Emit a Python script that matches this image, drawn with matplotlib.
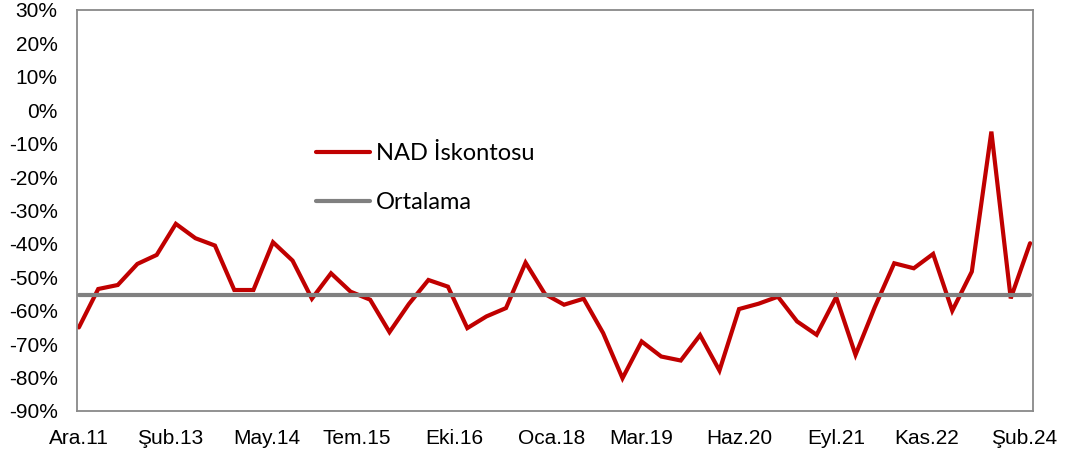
import matplotlib
matplotlib.use("Agg")
import matplotlib.pyplot as plt
import pandas as pd
from matplotlib.ticker import FuncFormatter, MultipleLocator

plt.rcParams["axes.unicode_minus"] = False

# çeyreklik veri: Aralık 2011 - Mart 2024
donemler = pd.date_range("2011-12-01", "2024-03-01", freq="3MS")
nad_iskontosu = [
    -65.0, -53.5, -52.3, -46.0, -43.3, -34.0, -38.3, -40.5, -53.8, -53.8,
    -39.5, -45.0, -56.4, -48.8, -54.3, -56.7, -66.4, -58.0, -50.8, -52.8,
    -65.2, -61.7, -59.2, -45.6, -55.0, -58.2, -56.4, -66.7, -80.2, -69.2,
    -73.7, -74.9, -67.3, -77.9, -59.5, -57.9, -55.8, -63.2, -67.2, -55.9,
    -73.2, -59.0, -45.8, -47.3, -43.0, -60.0, -48.3, -6.4, -56.3, -39.8,
]
ortalama = -55.2

tick_tarihleri = pd.to_datetime([
    "2011-12-01", "2013-02-01", "2014-05-01", "2015-07-01", "2016-10-01",
    "2018-01-01", "2019-03-01", "2020-06-01", "2021-09-01", "2022-11-01",
    "2024-02-01",
])
tick_etiketleri = ["Ara.11", "Şub.13", "May.14", "Tem.15", "Eki.16", "Oca.18",
                   "Mar.19", "Haz.20", "Eyl.21", "Kas.22", "Şub.24"]

fig = plt.figure(figsize=(10.78, 4.57), dpi=100)
ax = fig.add_axes([0.0714, 0.1007, 0.8869, 0.8775])

ax.plot(donemler, nad_iskontosu, color="#C00000", linewidth=3.0,
        solid_capstyle="round", solid_joinstyle="miter", label="NAD İskontosu")
ax.plot(donemler, [ortalama] * len(donemler), color="#808080", linewidth=3.0,
        solid_capstyle="round", label="Ortalama")

ax.set_ylim(-90, 30)
ax.yaxis.set_major_locator(MultipleLocator(10))
ax.yaxis.set_major_formatter(FuncFormatter(lambda v, p: f"{v:.0f}%"))
ax.set_xlim(donemler[0] - pd.Timedelta(days=9), donemler[-1] + pd.Timedelta(days=14))
ax.set_xticks(tick_tarihleri)
ax.set_xticklabels(tick_etiketleri)

for lab in ax.get_xticklabels() + ax.get_yticklabels():
    lab.set_fontfamily("Liberation Sans")
    lab.set_fontsize(15)
    lab.set_color("#000000")
ax.tick_params(axis="y", length=0, pad=14)
ax.tick_params(axis="x", length=0, pad=13)

for s in ax.spines.values():
    s.set_color("#898989")
    s.set_linewidth(1.3)

ax.legend(loc="center left", bbox_to_anchor=(0.25, 0.581), frameon=False,
          borderpad=0, borderaxespad=0, handlelength=2.3, handletextpad=0.25,
          labelspacing=1.2, prop={"family": "Lato", "size": 17})

fig.savefig("out.png", dpi=100)
